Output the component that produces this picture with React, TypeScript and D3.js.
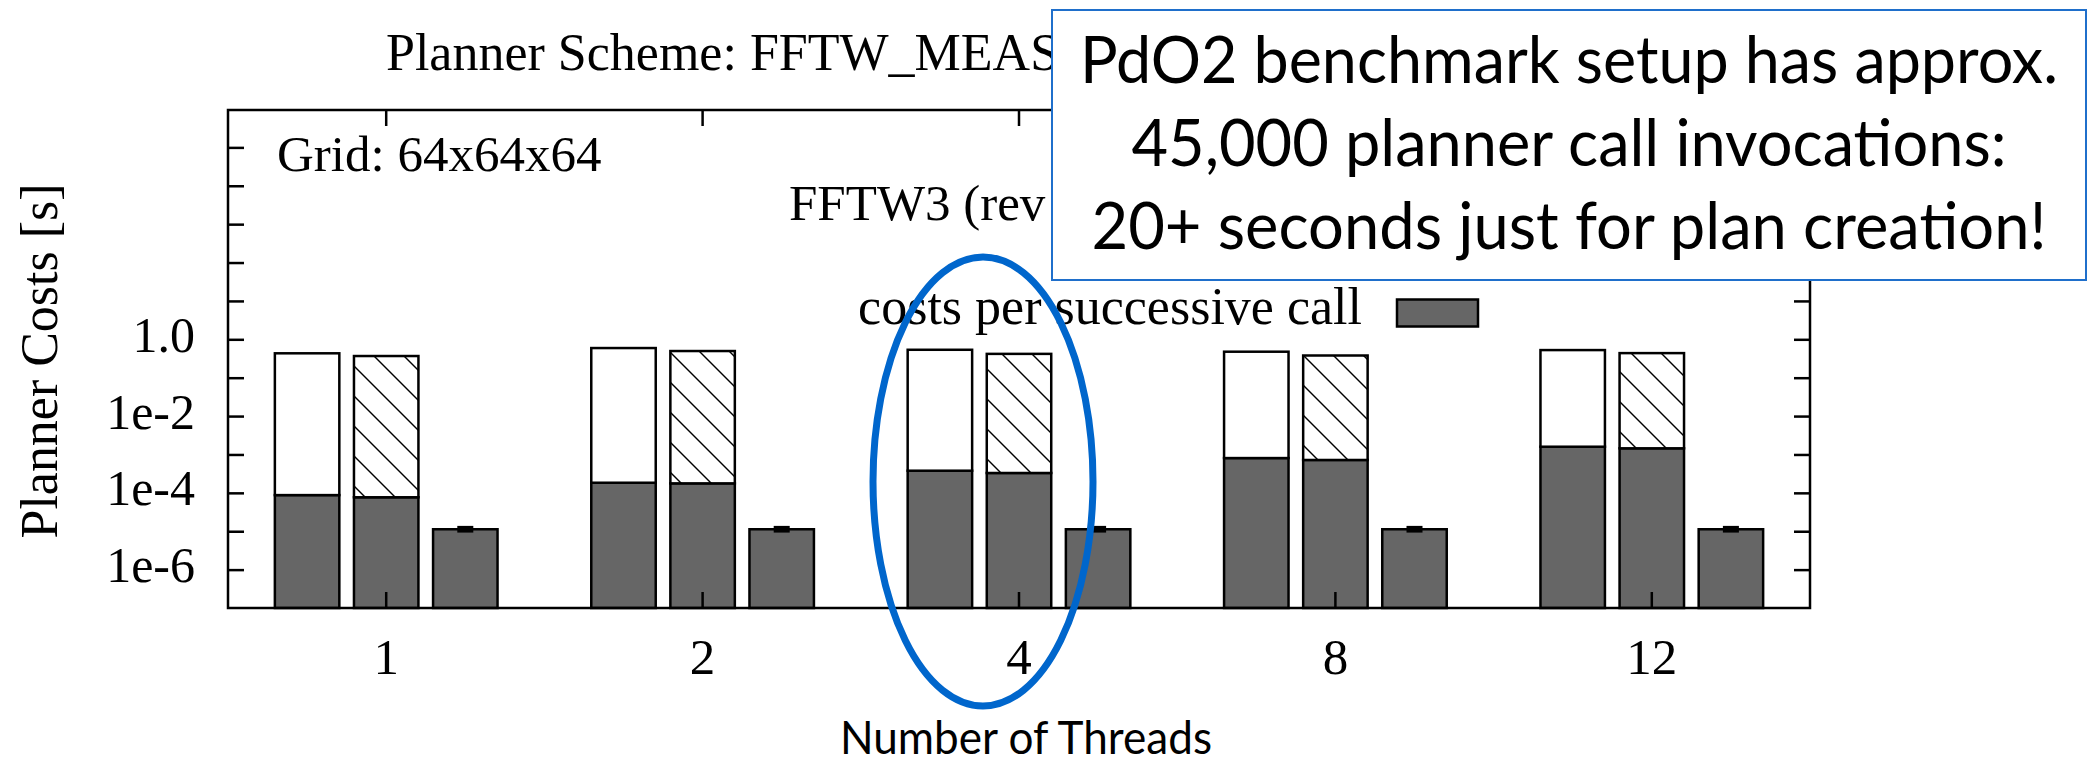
import React from "react";
import * as d3 from "d3";

const threads = ["1", "2", "4", "8", "12"];
// first bar: total (white top) and dark bottom part
const firstTotal = [0.445, 0.61, 0.55, 0.49, 0.54];
const firstDark = [9.0e-5, 1.89e-4, 3.89e-4, 8.3e-4, 1.64e-3];
// second bar: total (hatched top) and dark bottom part
const secondTotal = [0.378, 0.51, 0.43, 0.39, 0.45];
const secondDark = [7.9e-5, 1.82e-4, 3.39e-4, 7.4e-4, 1.49e-3];
// third bar: costs per successive call, with error range
const successive = [1.16e-5, 1.16e-5, 1.16e-5, 1.16e-5, 1.16e-5];
const successiveLo = [9.5e-6, 9.5e-6, 9.5e-6, 9.5e-6, 9.5e-6];
const successiveHi = [1.42e-5, 1.42e-5, 1.42e-5, 1.42e-5, 1.42e-5];

const yTickValues = [1e-6, 1e-5, 1e-4, 1e-3, 1e-2, 1e-1, 1, 10, 100, 1e3, 1e4, 1e5];
const yLabelValues = [1, 1e-2, 1e-4, 1e-6];
const yLabelTexts = ["1.0", "1e-2", "1e-4", "1e-6"];

const boxLines = [
  "PdO2 benchmark setup has approx.",
  "45,000 planner call invocations:",
  "20+ seconds just for plan creation!",
];
const boxLineWidths = [978, 875, 955];

const W = 2095;
const H = 758;
const plot = { left: 228, right: 1810, top: 110, bottom: 608 };
const SERIF = "'Liberation Serif', 'Times New Roman', serif";
const SANS = "Lato, 'Open Sans', sans-serif";
const DARK = "#666666";
const BLUE = "#0066CC";

export default function App() {
  const x = d3.scaleBand<string>().domain(threads).range([plot.left, plot.right]).paddingInner(0).paddingOuter(0);
  const y = d3.scaleLog().domain([1e-7, 1e6]).range([608.5, 109.5]);
  const pitch = x.bandwidth() / 4;
  const bw = pitch * 0.815;
  const center = (t: string) => (x(t) as number) + x.bandwidth() / 2;
  const base = plot.bottom;
  const sw = 2.5;
  const tickLen = 16;

  return (
    <svg width={W} height={H} style={{ position: "absolute", left: 0, top: 0, background: "#fff" }}>
      <defs>
        <pattern id="hatch" patternUnits="userSpaceOnUse" width={30} height={30} x={18} y={0}>
          <line x1={-5} y1={-5} x2={35} y2={35} stroke="#000" strokeWidth={1.4} />
          <line x1={-35} y1={-5} x2={5} y2={35} stroke="#000" strokeWidth={1.4} />
          <line x1={25} y1={-5} x2={65} y2={35} stroke="#000" strokeWidth={1.4} />
        </pattern>
      </defs>
      <rect x={0} y={0} width={W} height={H} fill="#fff" />

      {/* title */}
      <text x={386} y={70} fontFamily={SERIF} fontSize={52} fill="#000">Planner Scheme: FFTW_MEASURE</text>

      {/* bars */}
      {threads.map((t, i) => {
        const c = center(t);
        const x1 = c - pitch - bw / 2;
        const x2 = c - bw / 2;
        const x3 = c + pitch - bw / 2;
        return (
          <g key={t}>
            <rect x={x1} y={y(firstDark[i])} width={bw} height={base - y(firstDark[i])} fill={DARK} stroke="#000" strokeWidth={sw} />
            <rect x={x1} y={y(firstTotal[i])} width={bw} height={y(firstDark[i]) - y(firstTotal[i])} fill="#fff" stroke="#000" strokeWidth={sw} />
            <rect x={x2} y={y(secondDark[i])} width={bw} height={base - y(secondDark[i])} fill={DARK} stroke="#000" strokeWidth={sw} />
            <rect x={x2} y={y(secondTotal[i])} width={bw} height={y(secondDark[i]) - y(secondTotal[i])} fill="#fff" />
            <rect x={x2} y={y(secondTotal[i])} width={bw} height={y(secondDark[i]) - y(secondTotal[i])} fill="url(#hatch)" stroke="#000" strokeWidth={sw} />
            <rect x={x3} y={y(successive[i])} width={bw} height={base - y(successive[i])} fill={DARK} stroke="#000" strokeWidth={sw} />
            <rect x={c + pitch - 8} y={y(successiveHi[i])} width={16} height={y(successiveLo[i]) - y(successiveHi[i])} fill="#000" />
          </g>
        );
      })}

      {/* frame */}
      <rect x={plot.left} y={plot.top} width={plot.right - plot.left} height={plot.bottom - plot.top} fill="none" stroke="#000" strokeWidth={sw} />

      {/* y ticks (left and mirrored right) */}
      {yTickValues.map((v) => (
        <g key={v}>
          <line x1={plot.left} x2={plot.left + tickLen} y1={y(v)} y2={y(v)} stroke="#000" strokeWidth={sw} />
          <line x1={plot.right - tickLen} x2={plot.right} y1={y(v)} y2={y(v)} stroke="#000" strokeWidth={sw} />
        </g>
      ))}
      {yLabelValues.map((v, i) => (
        <text key={v} x={195} y={y(v) + 12} textAnchor="end" fontFamily={SERIF} fontSize={50} fill="#000">{yLabelTexts[i]}</text>
      ))}

      {/* x ticks (top mirrored) and labels */}
      {threads.map((t) => (
        <g key={t}>
          <line x1={center(t)} x2={center(t)} y1={plot.top} y2={plot.top + tickLen} stroke="#000" strokeWidth={sw} />
          <line x1={center(t)} x2={center(t)} y1={plot.bottom - tickLen} y2={plot.bottom} stroke="#000" strokeWidth={sw} />
          <text x={center(t)} y={674} textAnchor="middle" fontFamily={SERIF} fontSize={51} fill="#000">{t}</text>
        </g>
      ))}

      {/* y axis label */}
      <text transform="translate(57,361) rotate(-90)" textAnchor="middle" fontFamily={SERIF} fontSize={52} textLength={355} lengthAdjust="spacing" fill="#000">Planner Costs [s]</text>

      {/* annotations inside plot */}
      <text x={277} y={171} fontFamily={SERIF} fontSize={51} fill="#000">Grid: 64x64x64</text>
      <text x={789} y={220} fontFamily={SERIF} fontSize={51} fill="#000">FFTW3 (rev</text>

      {/* legend */}
      <text x={1362} y={324} textAnchor="end" fontFamily={SERIF} fontSize={52} fill="#000">costs per successive call</text>
      <rect x={1397} y={299.5} width={81} height={27} fill={DARK} stroke="#000" strokeWidth={sw} />

      {/* x axis title */}
      <text x={1026} y={754} textAnchor="middle" fontFamily={SANS} fontSize={46} textLength={372} lengthAdjust="spacingAndGlyphs" fill="#000">Number of Threads</text>

      {/* highlight ellipse */}
      <ellipse cx={983} cy={481.5} rx={110} ry={224.5} fill="none" stroke={BLUE} strokeWidth={7} />

      {/* callout box */}
      <rect x={1052} y={10} width={1034} height={270} fill="#fff" stroke="#1F6FCB" strokeWidth={2} />
      {boxLines.map((s, i) => (
        <text key={i} x={1569} y={83 + i * 83.2} textAnchor="middle" fontFamily={SANS} fontSize={66} textLength={boxLineWidths[i]} lengthAdjust="spacingAndGlyphs" fill="#000">{s}</text>
      ))}
    </svg>
  );
}
